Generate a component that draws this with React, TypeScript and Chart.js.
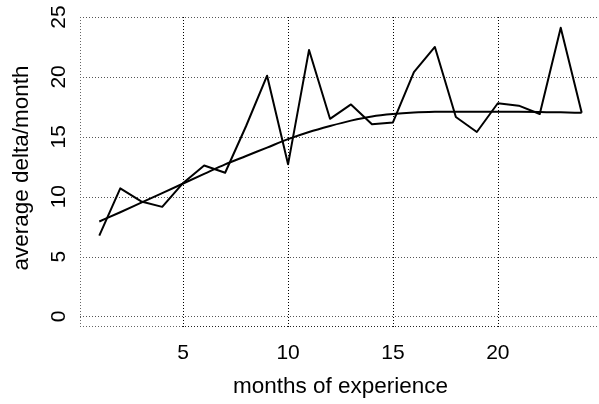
import React, { useEffect, useRef } from "react";
import { Chart, registerables } from "chart.js";

Chart.register(...registerables);

const months = [1, 2, 3, 4, 5, 6, 7, 8, 9, 10, 11, 12, 13, 14, 15, 16, 17, 18, 19, 20, 21, 22, 23, 24];
const avgDelta = [6.75, 10.7, 9.6, 9.15, 11.15, 12.6, 12.0, 15.9, 20.1, 12.7, 22.25, 16.5, 17.7, 16.05, 16.2, 20.4, 22.5, 16.65, 15.4, 17.8, 17.6, 16.9, 24.1, 17.0];
const smoothFit = [7.93, 8.7, 9.5, 10.3, 11.1, 11.9, 12.7, 13.4, 14.1, 14.8, 15.4, 15.9, 16.35, 16.7, 16.9, 17.02, 17.08, 17.1, 17.1, 17.1, 17.08, 17.06, 17.04, 17.0];
const xTicks = [5, 10, 15, 20];
const yTicks = [0, 5, 10, 15, 20, 25];
const xTitle = "months of experience";
const yTitle = "average delta/month";

const FAMILY = '"Liberation Sans", Arial, sans-serif';

export default function App() {
  const ref = useRef<HTMLCanvasElement | null>(null);

  useEffect(() => {
    const canvas = ref.current;
    if (!canvas) return;

    const gridPlugin = {
      id: "rgrid",
      beforeDatasetsDraw(chart: any) {
        const ctx = chart.ctx;
        const xs = chart.scales.x;
        const ys = chart.scales.y;
        const a = chart.chartArea;
        ctx.save();
        ctx.lineWidth = 1;
        ctx.setLineDash([1, 2]);
        // horizontal grid
        ctx.strokeStyle = "#555";
        yTicks.forEach((v) => {
          const y = Math.round(ys.getPixelForValue(v)) + 0.5;
          ctx.beginPath();
          ctx.moveTo(a.left, y);
          ctx.lineTo(a.right, y);
          ctx.stroke();
        });
        // vertical grid
        ctx.strokeStyle = "#000";
        xTicks.forEach((v) => {
          const x = Math.round(xs.getPixelForValue(v)) + 0.5;
          ctx.beginPath();
          ctx.moveTo(x, a.top);
          ctx.lineTo(x, a.bottom);
          ctx.stroke();
        });
        // box (left + bottom)
        ctx.strokeStyle = "#666";
        const bx = Math.round(a.left) + 0.5;
        const by = Math.round(a.bottom) - 0.5;
        ctx.beginPath();
        ctx.moveTo(bx, a.top);
        ctx.lineTo(bx, by);
        ctx.stroke();
        ctx.beginPath();
        ctx.moveTo(a.left, by);
        ctx.lineTo(a.right, by);
        ctx.stroke();
        // axis line from first to last tick, dots aligned with box dots
        const x0 = xs.getPixelForValue(xTicks[0]);
        const x1 = xs.getPixelForValue(xTicks[xTicks.length - 1]);
        const start = a.left + Math.round((x0 - a.left) / 3) * 3;
        ctx.strokeStyle = "#222";
        ctx.beginPath();
        ctx.moveTo(start, by);
        ctx.lineTo(x1, by);
        ctx.stroke();
        ctx.restore();
      },
    };

    const textPlugin = {
      id: "rtext",
      afterDraw(chart: any) {
        const ctx = chart.ctx;
        const xs = chart.scales.x;
        const ys = chart.scales.y;
        const area = chart.chartArea;
        ctx.save();
        ctx.fillStyle = "#000";
        ctx.font = "21px " + FAMILY;
        ctx.textAlign = "center";
        ctx.textBaseline = "middle";
        xTicks.forEach((v) => {
          ctx.fillText(String(v), xs.getPixelForValue(v), 353);
        });
        yTicks.forEach((v) => {
          ctx.save();
          ctx.translate(59, ys.getPixelForValue(v));
          ctx.rotate(-Math.PI / 2);
          ctx.fillText(String(v), 0, 0);
          ctx.restore();
        });
        ctx.font = "22.5px " + FAMILY;
        ctx.fillText(xTitle, (area.left + area.right) / 2, 387);
        ctx.save();
        ctx.translate(22, 168);
        ctx.rotate(-Math.PI / 2);
        ctx.fillText(yTitle, 0, 0);
        ctx.restore();
        ctx.restore();
      },
    };

    const chart = new Chart(canvas, {
      type: "line",
      data: {
        datasets: [
          {
            label: "average",
            data: months.map((m, i) => ({ x: m, y: avgDelta[i] })),
            borderColor: "#000",
            borderWidth: 2,
            pointRadius: 0,
            tension: 0,
            fill: false,
            borderJoinStyle: "round",
          },
          {
            label: "smooth",
            data: months.map((m, i) => ({ x: m, y: smoothFit[i] })),
            borderColor: "#000",
            borderWidth: 2,
            pointRadius: 0,
            cubicInterpolationMode: "monotone",
            fill: false,
          },
        ],
      },
      options: {
        responsive: false,
        animation: false,
        layout: { padding: { top: 17, right: 19, left: 0, bottom: 0 } },
        plugins: { legend: { display: false }, tooltip: { enabled: false } },
        scales: {
          x: {
            type: "linear",
            min: 0.08,
            max: 24.92,
            afterFit: (s: any) => {
              s.height = 77;
            },
            afterBuildTicks: (s: any) => {
              s.ticks = xTicks.map((v) => ({ value: v }));
            },
            ticks: { display: false },
            grid: { display: false, drawTicks: false },
            border: { display: false },
          },
          y: {
            type: "linear",
            min: -0.88,
            max: 25,
            afterFit: (s: any) => {
              s.width = 80;
            },
            afterBuildTicks: (s: any) => {
              s.ticks = yTicks.map((v) => ({ value: v }));
            },
            ticks: { display: false },
            grid: { display: false, drawTicks: false },
            border: { display: false },
          },
        },
      },
      plugins: [gridPlugin, textPlugin],
    } as any);

    return () => chart.destroy();
  }, []);

  return (
    <div style={{ position: "absolute", left: 0, top: 0, width: 599, height: 404, overflow: "hidden", background: "#fff" }}>
      <canvas ref={ref} width={620} height={404} style={{ width: 620, height: 404, display: "block" }} />
    </div>
  );
}
